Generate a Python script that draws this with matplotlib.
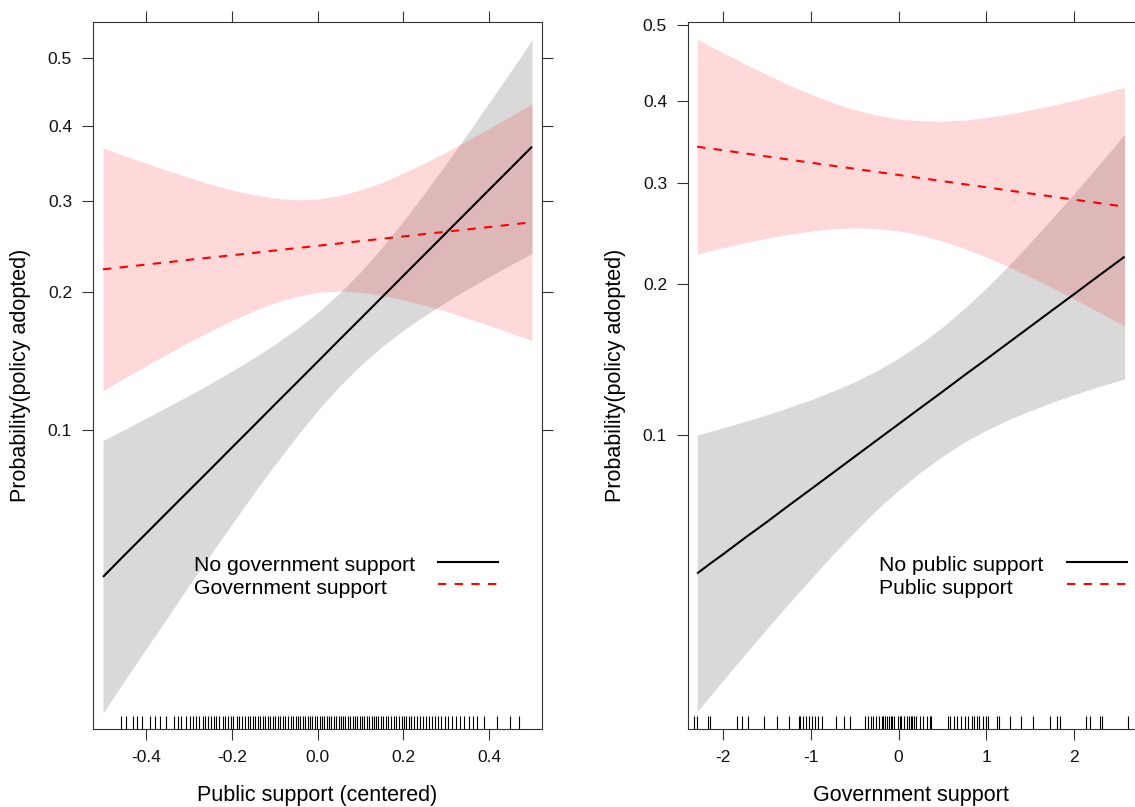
import numpy as np
import matplotlib
matplotlib.use("Agg")
import matplotlib.pyplot as plt

plt.rcParams['font.family'] = ['Liberation Sans', 'DejaVu Sans']

# ---------------- Left panel: Public support (centered) ----------------
pub_x = [-0.5, -0.45, -0.4, -0.35, -0.3, -0.25, -0.2, -0.15, -0.1, -0.05, 0.0,
         0.05, 0.1, 0.15, 0.2, 0.25, 0.3, 0.35, 0.4, 0.45, 0.5]
nogov_fit = [0.0445, 0.0503, 0.0567, 0.0639, 0.0719, 0.0808, 0.0908, 0.1018, 0.1141, 0.1275, 0.1423,
             0.1586, 0.1762, 0.1954, 0.2162, 0.2385, 0.2623, 0.2876, 0.3144, 0.3423, 0.3715]
nogov_lo = [0.0204, 0.0246, 0.0295, 0.0353, 0.0423, 0.0504, 0.0597, 0.0706, 0.0827, 0.0961, 0.1105,
            0.1252, 0.1397, 0.1534, 0.1666, 0.1790, 0.1912, 0.2033, 0.2152, 0.2272, 0.2394]
nogov_hi = [0.0944, 0.1001, 0.1062, 0.1128, 0.1197, 0.1273, 0.1356, 0.1448, 0.1553, 0.1673, 0.1815,
            0.1988, 0.2199, 0.2456, 0.2757, 0.3103, 0.3484, 0.3899, 0.4339, 0.4795, 0.5260]
gov_fit = [0.2227, 0.2251, 0.2276, 0.2300, 0.2326, 0.2350, 0.2374, 0.2399, 0.2425, 0.2451, 0.2477,
           0.2503, 0.2529, 0.2555, 0.2581, 0.2609, 0.2635, 0.2662, 0.2689, 0.2717, 0.2745]
gov_lo = [0.1227, 0.1309, 0.1393, 0.1480, 0.1570, 0.1659, 0.1746, 0.1829, 0.1903, 0.1961, 0.1999,
          0.2012, 0.2002, 0.1973, 0.1931, 0.1881, 0.1826, 0.1765, 0.1705, 0.1643, 0.1582]
gov_hi = [0.3698, 0.3592, 0.3491, 0.3394, 0.3303, 0.3217, 0.3141, 0.3081, 0.3037, 0.3017, 0.3026,
          0.3068, 0.3141, 0.3238, 0.3358, 0.3495, 0.3642, 0.3804, 0.3970, 0.4144, 0.4324]

pub_rug = [-0.459, -0.446, -0.430, -0.421, -0.408, -0.390, -0.379, -0.366, -0.354, -0.334,
           -0.325, -0.318, -0.306, -0.298, -0.291, -0.283, -0.276, -0.268, -0.262, -0.255,
           -0.249, -0.241, -0.236, -0.229, -0.221, -0.215, -0.209, -0.201, -0.196, -0.188,
           -0.182, -0.176, -0.170, -0.163, -0.158, -0.151, -0.146, -0.139, -0.133, -0.127,
           -0.122, -0.116, -0.111, -0.104, -0.098, -0.092, -0.087, -0.080, -0.075, -0.068,
           -0.062, -0.057, -0.051, -0.045, -0.040, -0.034, -0.029, -0.023, -0.017, -0.012,
           -0.006, -0.001, 0.005, 0.010, 0.016, 0.021, 0.027, 0.032, 0.038, 0.043,
           0.049, 0.054, 0.060, 0.065, 0.071, 0.076, 0.082, 0.087, 0.093, 0.098,
           0.104, 0.109, 0.115, 0.120, 0.126, 0.131, 0.137, 0.142, 0.148, 0.153,
           0.159, 0.165, 0.171, 0.178, 0.184, 0.191, 0.197, 0.202, 0.206, 0.213,
           0.219, 0.226, 0.232, 0.239, 0.246, 0.252, 0.259, 0.266, 0.273, 0.281,
           0.289, 0.297, 0.305, 0.314, 0.323, 0.333, 0.342, 0.352, 0.362,
           0.372, 0.388, 0.419, 0.448, 0.469]

pub_xticks = [-0.4, -0.2, 0.0, 0.2, 0.4]
pub_xticklabels = ['-0.4', '-0.2', '0.0', '0.2', '0.4']
left_legend = ['No government support', 'Government support']

# ---------------- Right panel: Government support ----------------
gov_x = [-2.3, -2.15, -2.0, -1.75, -1.5, -1.25, -1.0, -0.75, -0.5, -0.25, 0.0,
         0.25, 0.5, 0.75, 1.0, 1.25, 1.5, 1.75, 2.0, 2.29, 2.58]
nopub_fit = [0.0502, 0.0528, 0.0554, 0.0602, 0.0652, 0.0708, 0.0767, 0.0831, 0.0900, 0.0974, 0.1053,
             0.1138, 0.1228, 0.1326, 0.1428, 0.1538, 0.1655, 0.1779, 0.1909, 0.2071, 0.2241]
nopub_lo = [0.0246, 0.0267, 0.0290, 0.0332, 0.0379, 0.0431, 0.0489, 0.0553, 0.0620, 0.0692, 0.0763,
            0.0834, 0.0901, 0.0965, 0.1022, 0.1075, 0.1122, 0.1168, 0.1211, 0.1259, 0.1303]
nopub_hi = [0.0999, 0.1017, 0.1035, 0.1067, 0.1102, 0.1141, 0.1183, 0.1232, 0.1287, 0.1355, 0.1436,
            0.1534, 0.1652, 0.1795, 0.1961, 0.2153, 0.2372, 0.2614, 0.2878, 0.3215, 0.3575]
pub_fit = [0.3424, 0.3402, 0.3381, 0.3343, 0.3307, 0.3270, 0.3234, 0.3198, 0.3163, 0.3127, 0.3092,
           0.3057, 0.3022, 0.2987, 0.2953, 0.2918, 0.2884, 0.2851, 0.2817, 0.2779, 0.2741]
pub_lo = [0.2263, 0.2295, 0.2326, 0.2373, 0.2418, 0.2457, 0.2488, 0.2511, 0.2520, 0.2514, 0.2490,
          0.2448, 0.2390, 0.2319, 0.2237, 0.2150, 0.2059, 0.1966, 0.1873, 0.1765, 0.1660]
pub_hi = [0.4810, 0.4717, 0.4626, 0.4477, 0.4336, 0.4203, 0.4083, 0.3974, 0.3884, 0.3814, 0.3766,
          0.3742, 0.3738, 0.3754, 0.3785, 0.3827, 0.3879, 0.3939, 0.4003, 0.4086, 0.4172]

gov_rug = [-2.338, -2.297, -2.181, -2.153, -1.843, -1.790, -1.720, -1.534, -1.390, -1.254,
           -1.142, -1.122, -1.089, -1.060, -1.019, -0.990, -0.957, -0.915, -0.874, -0.709,
           -0.627, -0.553, -0.379, -0.346, -0.318, -0.289, -0.256, -0.223, -0.194, -0.173,
           -0.153, -0.132, -0.111, -0.091, -0.070, -0.049, -0.008, 0.012, 0.033, 0.066,
           0.095, 0.115, 0.136, 0.157, 0.177, 0.198, 0.239, 0.280, 0.322, 0.355,
           0.375, 0.561, 0.590, 0.631, 0.672, 0.713, 0.755, 0.796, 0.837, 0.858,
           0.891, 0.920, 0.961, 1.002, 1.023, 1.126, 1.146, 1.270, 1.394, 1.538,
           1.724, 1.806, 1.847, 2.144, 2.182, 2.295, 2.326, 2.617]

gov_xticks = [-2, -1, 0, 1, 2]
gov_xticklabels = ['-2', '-1', '0', '1', '2']
right_legend = ['No public support', 'Public support']

prob_ticks = [0.1, 0.2, 0.3, 0.4, 0.5]
prob_ticklabels = ['0.1', '0.2', '0.3', '0.4', '0.5']

W, H = 1135, 807
fig = plt.figure(figsize=(W / 100, H / 100), dpi=100)
fig.patch.set_facecolor('white')

axcol = '#333333'


def px_axes(x0, y_top, w, h):
    return [x0 / W, (H - (y_top + h)) / H, w / W, h / H]


def style_axis(ax, xticks, xticklabels, right_ticks=True):
    ax.set_yscale('logit')
    ax.set_yticks(prob_ticks)
    ax.set_yticklabels(prob_ticklabels)
    ax.yaxis.set_minor_locator(matplotlib.ticker.NullLocator())
    ax.yaxis.set_minor_formatter(matplotlib.ticker.NullFormatter())
    ax.set_xticks(xticks)
    ax.set_xticklabels(xticklabels)
    ax.tick_params(axis='both', which='major', direction='out', length=7.9, width=0.8,
                   color=axcol, labelsize=12.5, labelcolor='#111111', pad=6.8,
                   top=True, right=right_ticks, labeltop=False, labelright=False)
    for s in ax.spines.values():
        s.set_color(axcol)
        s.set_linewidth(0.8)


def draw_panel(ax, x, fit0, lo0, hi0, fit1, lo1, hi1, rug):
    # group 1 (black): band then line; group 2 (red): band then line
    ax.fill_between(x, lo0, hi0, color='black', alpha=0.15, linewidth=0)
    ax.plot(x, fit0, color='black', lw=1.5, solid_capstyle='butt')
    ax.fill_between(x, lo1, hi1, color='red', alpha=0.15, linewidth=0)
    ax.plot(x, fit1, color='red', lw=1.5, dashes=(4, 4))
    ax.vlines(rug, 0, 13.3 / 707, transform=ax.get_xaxis_transform(),
              color='black', lw=0.8)


def draw_legend(ax, labels, tx, lx0, lx1):
    ybase = [0.2239, 0.1909]
    yline = [0.2362, 0.2051]
    styles = [dict(color='black', lw=1.5), dict(color='red', lw=1.5, dashes=(4, 4))]
    for lab, yb, yl, st in zip(labels, ybase, yline, styles):
        ax.text(tx, yb, lab, transform=ax.transAxes, fontsize=15.2,
                ha='left', va='baseline', color='black')
        ax.plot([lx0, lx1], [yl, yl], transform=ax.transAxes, **st)


# Left panel
ax1 = fig.add_axes(px_axes(92.5, 22.3, 449.5, 707))
draw_panel(ax1, pub_x, nogov_fit, nogov_lo, nogov_hi, gov_fit, gov_lo, gov_hi, pub_rug)
ax1.set_xlim(-0.5245, 0.5233)
ax1.set_ylim(0.01858, 0.5521)
style_axis(ax1, pub_xticks, pub_xticklabels, right_ticks=True)
ax1.set_xlabel('Public support (centered)', fontsize=15.5, va='center')
ax1.xaxis.set_label_coords(0.5, -0.094)
ax1.set_ylabel('Probability(policy adopted)', fontsize=15.5, va='center')
ax1.yaxis.set_label_coords((21 - 92.5) / 449.5, 0.5)
draw_legend(ax1, left_legend, 0.2258, 0.7697, 0.9032)

# Right panel
ax2 = fig.add_axes(px_axes(687.5, 22.3, 447.6, 707))
draw_panel(ax2, gov_x, nopub_fit, nopub_lo, nopub_hi, pub_fit, pub_lo, pub_hi, gov_rug)
ax2.set_xlim(-2.41, 2.70)
ax2.set_ylim(0.02241, 0.5036)
style_axis(ax2, gov_xticks, gov_xticklabels, right_ticks=False)
ax2.spines['right'].set_visible(False)
ax2.set_xlabel('Government support', fontsize=15.5, va='center')
ax2.xaxis.set_label_coords(0.5, -0.094)
ax2.set_ylabel('Probability(policy adopted)', fontsize=15.5, va='center')
ax2.yaxis.set_label_coords((616 - 687.5) / 447.6, 0.5)
draw_legend(ax2, right_legend, 0.4274, 0.8479, 0.9819)

fig.savefig('out.png', dpi=100, facecolor='white')
